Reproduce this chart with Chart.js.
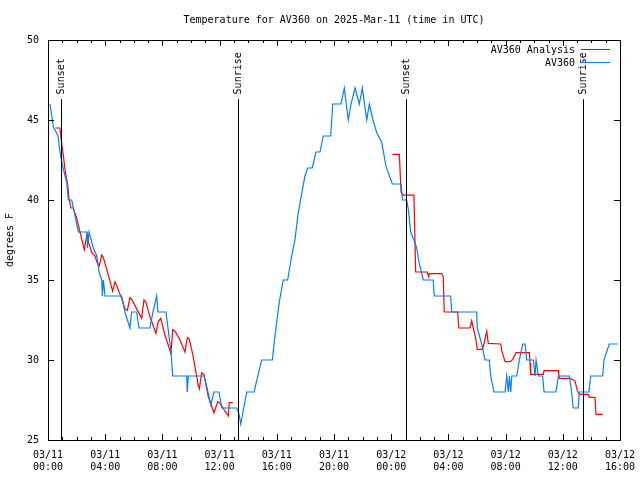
<!DOCTYPE html>
<html>
<head>
<meta charset="utf-8">
<title>Temperature for AV360</title>
<script src="https://cdn.jsdelivr.net/npm/chart.js@4/dist/chart.umd.min.js"></script>
<style>
html, body { margin: 0; padding: 0; background: #fff; }
</style>
</head>
<body>
<canvas id="temp-chart" width="640" height="480"></canvas>
<script>
// hours since 03/11 00:00 UTC
var titleText = 'Temperature for AV360 on 2025-Mar-11 (time in UTC)';
var seriesNames = ['AV360 Analysis', 'AV360'];
var seriesColors = ['#ff0000', '#0080ff'];
var yTicks = [25, 30, 35, 40, 45, 50];
var xTickHours = [0, 4, 8, 12, 16, 20, 24, 28, 32, 36, 40];
var xTickDates = ['03/11', '03/11', '03/11', '03/11', '03/11', '03/11', '03/12', '03/12', '03/12', '03/12', '03/12'];
var xTickTimes = ['00:00', '04:00', '08:00', '12:00', '16:00', '20:00', '00:00', '04:00', '08:00', '12:00', '16:00'];
var sunHours = [0.89, 13.31, 25.06, 37.43];
var sunNames = ['Sunset', 'Sunrise', 'Sunset', 'Sunrise'];

var obsHours = [0.14, 0.37, 0.70, 0.84, 1.05, 1.31, 1.42, 1.66, 1.89, 2.12, 2.73, 2.75, 2.87, 3.17, 3.41, 3.57, 3.76, 3.80, 3.87, 3.99,
    5.15, 5.38, 5.73, 5.85, 6.20, 6.36, 7.13, 7.34, 7.60, 7.69, 8.25, 8.39, 8.60, 8.72, 9.70, 9.74, 9.81, 10.91, 11.19, 11.38,
    11.61, 11.96, 12.15, 13.20, 13.36, 13.48, 13.90, 14.41, 14.94, 15.69, 15.87, 16.17, 16.45, 16.76, 17.04, 17.27, 17.50, 17.74, 17.97, 18.16,
    18.48, 18.74, 19.02, 19.25, 19.77, 19.91, 20.49, 20.72, 21.00, 21.19, 21.47, 21.77, 21.98, 22.29, 22.47, 22.73, 22.99, 23.34, 23.64, 24.08,
    24.69, 24.79, 25.08, 25.20, 25.36, 25.59, 25.78, 25.97, 26.24, 26.94, 27.01, 28.16, 28.23, 29.98, 30.02, 30.33, 30.56, 30.86, 30.96, 31.19,
    31.96, 32.08, 32.19, 32.26, 32.36, 32.43, 32.78, 32.96, 33.20, 33.36, 33.48, 33.94, 34.06, 34.13, 34.29, 34.59, 34.69, 35.52, 35.69, 36.46,
    36.62, 36.73, 37.08, 37.15, 37.83, 37.95, 38.79, 38.88, 39.25, 39.84];
var obsTemps = [46, 44.6, 44, 43, 42, 41.1, 40, 40, 39, 38, 38, 37, 38, 37, 36.5, 35.5, 35, 34, 35, 34,
    34, 33, 32, 33, 33, 32, 32, 33, 34, 33, 33, 32, 30.5, 29, 29, 28, 29, 29, 28, 27.2,
    28, 28, 27, 27, 26.6, 26, 28, 28, 30, 30, 31.5, 33.6, 35, 35, 36.5, 37.5, 39.2, 40.4, 41.5, 42,
    42, 43, 43, 44, 44, 46, 46, 47, 45, 46, 47, 46, 47, 45, 46, 45, 44.2, 43.6, 42.1, 41,
    41, 40, 40, 39.4, 38, 37.5, 37, 36, 35, 35, 34, 34, 33, 33, 32, 31, 30, 30, 29, 28,
    28, 29, 28, 29, 28, 29, 29, 30, 31, 31, 30, 30, 29, 30, 29, 29, 28, 28, 29, 29,
    28, 27, 27, 28, 28, 29, 29, 30, 31, 31];

var anaHours = [0.54, 0.84, 0.91, 1.07, 1.19, 1.38, 1.47, 1.61, 1.77, 2.01, 2.24, 2.40, 2.54, 2.71, 2.82, 3.06, 3.29, 3.43, 3.59, 3.76,
    3.87, 4.22, 4.52, 4.69, 5.15, 5.38, 5.55, 5.73, 5.85, 6.55, 6.71, 6.85, 7.13, 7.55, 7.71, 7.88, 8.18, 8.60, 8.72, 8.88,
    9.23, 9.58, 9.74, 9.88, 10.16, 10.51, 10.58, 10.75, 10.91, 11.21, 11.61, 11.87, 12.03, 12.38, 12.61, 12.68, 12.92, 18.5,
    24.08, 24.57, 24.69, 24.85, 25.59, 25.71, 26.52, 26.62, 26.66, 27.53, 27.64, 27.71, 28.65, 28.72, 29.51, 29.63, 29.74, 29.93, 30.02, 30.37,
    30.44, 30.68, 30.79, 31.66, 31.73, 31.96, 32.31, 32.50, 32.73, 33.66, 33.71, 33.76, 34.64, 34.69, 35.69, 35.76, 36.50, 36.85, 37.01, 37.15,
    37.78, 37.85, 38.25, 38.32, 38.79];
var anaTemps = [44.5, 44.5, 43.85, 42.8, 41.9, 40.9, 40.1, 39.5, 39.5, 38.85, 38.0, 37.4, 36.9, 37.8, 37.4, 36.7, 36.5, 36.1, 35.9, 36.56,
    36.4, 35.3, 34.3, 34.9, 33.85, 33.2, 33.1, 33.9, 33.8, 32.6, 33.75, 33.6, 32.7, 31.67, 32.4, 32.6, 31.56, 30.4, 31.9, 31.8,
    31.25, 30.5, 31.4, 31.3, 30.2, 28.4, 28.2, 29.2, 29.1, 27.7, 26.7, 27.4, 27.3, 26.8, 26.5, 27.33, 27.33, null,
    42.85, 42.85, 40.5, 40.3, 40.3, 35.5, 35.5, 35.2, 35.4, 35.4, 35.2, 33.0, 33.0, 32.0, 32.0, 32.45, 32.0, 31.25, 30.67, 30.67,
    30.8, 31.8, 31.04, 31.0, 30.6, 29.9, 29.9, 30.04, 30.46, 30.46, 29.8, 29.1, 29.1, 29.33, 29.33, 28.85, 28.85, 28.7, 28.1, 27.85,
    27.85, 27.67, 27.67, 26.6, 26.6];

var monoFont = { family: '"DejaVu Sans Mono", "Liberation Mono", monospace', size: 10, lineHeight: 1.2 };
var fontStr = '10px "DejaVu Sans Mono", "Liberation Mono", monospace';

function toPoints(hours, temps) {
    return hours.map(function (h, i) { return { x: h, y: temps[i] }; });
}

// gnuplot-like frame: border, inward ticks, sun markers, title and legend
var gnuplotFrame = {
    id: 'gnuplotFrame',
    afterDatasetsDraw: function (chart) {
        var ctx = chart.ctx, a = chart.chartArea;
        var xs = chart.scales.x, ys = chart.scales.y;
        ctx.save();
        ctx.strokeStyle = '#000';
        ctx.lineWidth = 1;

        // sunrise / sunset lines
        sunHours.forEach(function (h) {
            var px = Math.round(xs.getPixelForValue(h)) + 0.5;
            ctx.beginPath();
            ctx.moveTo(px, ys.getPixelForValue(46.3));
            ctx.lineTo(px, a.bottom);
            ctx.stroke();
        });

        ctx.beginPath();
        // hourly ticks, longer at labelled hours
        for (var h = 0; h <= 40; h++) {
            var px = Math.round(xs.getPixelForValue(h)) + 0.5;
            var len = xTickHours.indexOf(h) >= 0 ? 6 : 3;
            ctx.moveTo(px, a.bottom); ctx.lineTo(px, a.bottom - len);
            ctx.moveTo(px, a.top); ctx.lineTo(px, a.top + len);
        }
        yTicks.forEach(function (v) {
            var py = Math.round(ys.getPixelForValue(v)) + 0.5;
            ctx.moveTo(a.left, py); ctx.lineTo(a.left + 6, py);
            ctx.moveTo(a.right, py); ctx.lineTo(a.right - 6, py);
        });
        ctx.stroke();
        ctx.strokeRect(a.left + 0.5, a.top + 0.5, a.right - a.left, a.bottom - a.top);

        ctx.fillStyle = '#000';
        ctx.font = fontStr;

        // sun labels, rotated
        sunHours.forEach(function (h, i) {
            var px = Math.round(xs.getPixelForValue(h)) + 0.5;
            ctx.save();
            ctx.translate(px, ys.getPixelForValue(46.6));
            ctx.rotate(-Math.PI / 2);
            ctx.textAlign = 'left';
            ctx.textBaseline = 'middle';
            ctx.fillText(sunNames[i], 0, 0);
            ctx.restore();
        });

        // title
        ctx.textAlign = 'center';
        ctx.textBaseline = 'middle';
        ctx.fillText(titleText, (a.left + a.right) / 2, 20);

        // legend: text then line sample
        ctx.textAlign = 'right';
        seriesNames.forEach(function (name, i) {
            var y = 50 + i * 13;
            ctx.fillStyle = '#000';
            ctx.fillText(name, a.right - 45, y);
            ctx.strokeStyle = seriesColors[i];
            ctx.beginPath();
            ctx.moveTo(a.right - 39, y - 0.5);
            ctx.lineTo(a.right - 10, y - 0.5);
            ctx.stroke();
        });
        ctx.restore();
    }
};

var canvas = document.getElementById('temp-chart');
var ctx = canvas.getContext('2d');

var chart = new Chart(ctx, {
    type: 'line',
    data: {
        datasets: [{
            label: seriesNames[0],
            data: toPoints(anaHours, anaTemps),
            borderColor: seriesColors[0],
            borderWidth: 1.2,
            pointRadius: 0,
            tension: 0,
            spanGaps: false,
            order: 1
        }, {
            label: seriesNames[1],
            data: toPoints(obsHours, obsTemps),
            borderColor: seriesColors[1],
            borderWidth: 1.2,
            pointRadius: 0,
            tension: 0,
            order: 0
        }]
    },
    options: {
        responsive: false,
        animation: false,
        layout: { padding: { top: 40, right: 20, left: 0, bottom: 0 } },
        plugins: {
            legend: { display: false },
            title: { display: false },
            tooltip: { enabled: false }
        },
        scales: {
            x: {
                type: 'linear',
                min: 0,
                max: 40,
                grid: { display: false, drawTicks: false },
                border: { display: false },
                afterFit: function (scale) {
                    scale.height = 40;
                    scale.paddingLeft = 0;
                    scale.paddingRight = 0;
                },
                ticks: {
                    stepSize: 4,
                    autoSkip: false,
                    maxRotation: 0,
                    padding: 9,
                    color: '#000',
                    font: monoFont,
                    callback: function (value) {
                        var i = xTickHours.indexOf(value);
                        return i < 0 ? '' : [xTickDates[i], xTickTimes[i]];
                    }
                }
            },
            y: {
                min: 25,
                max: 50,
                grid: { display: false, drawTicks: false },
                border: { display: false },
                afterFit: function (scale) {
                    scale.width = 48;
                    scale.paddingTop = 0;
                    scale.paddingBottom = 0;
                },
                title: {
                    display: true,
                    text: 'degrees F',
                    color: '#000',
                    font: monoFont,
                    padding: { top: 4, bottom: 0 }
                },
                ticks: {
                    stepSize: 5,
                    padding: 9,
                    color: '#000',
                    font: monoFont
                }
            }
        }
    },
    plugins: [gnuplotFrame]
});
</script>
</body>
</html>
